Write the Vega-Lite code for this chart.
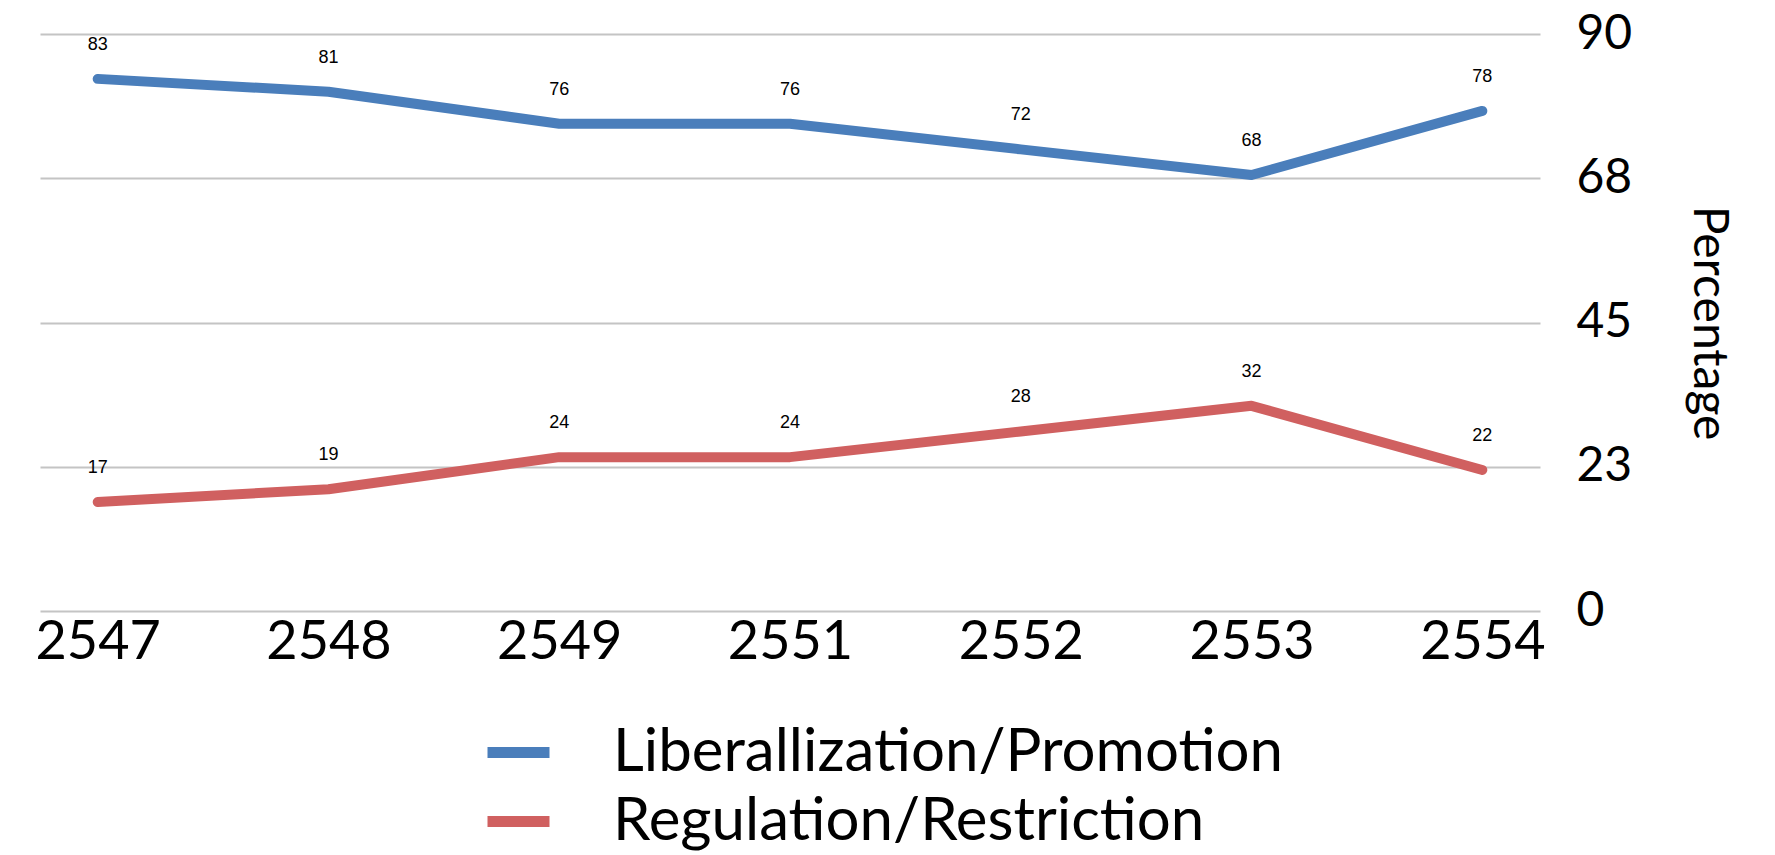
{
  "$schema": "https://vega.github.io/schema/vega-lite/v6.json",
  "width": 1500,
  "height": 577,
  "autosize": {"type": "none"},
  "padding": {"left": 40, "top": 34, "right": 235, "bottom": 244},
  "background": "white",
  "config": {"view": {"stroke": null}, "font": "Lato"},
  "data": {
    "values": [
      {"year": "2547", "series": "Liberallization/Promotion", "value": 83},
      {"year": "2548", "series": "Liberallization/Promotion", "value": 81},
      {"year": "2549", "series": "Liberallization/Promotion", "value": 76},
      {"year": "2551", "series": "Liberallization/Promotion", "value": 76},
      {"year": "2552", "series": "Liberallization/Promotion", "value": 72},
      {"year": "2553", "series": "Liberallization/Promotion", "value": 68},
      {"year": "2554", "series": "Liberallization/Promotion", "value": 78},
      {"year": "2547", "series": "Regulation/Restriction", "value": 17},
      {"year": "2548", "series": "Regulation/Restriction", "value": 19},
      {"year": "2549", "series": "Regulation/Restriction", "value": 24},
      {"year": "2551", "series": "Regulation/Restriction", "value": 24},
      {"year": "2552", "series": "Regulation/Restriction", "value": 28},
      {"year": "2553", "series": "Regulation/Restriction", "value": 32},
      {"year": "2554", "series": "Regulation/Restriction", "value": 22}
    ]
  },
  "encoding": {
    "x": {
      "field": "year", "type": "ordinal", "title": null,
      "scale": {"type": "point", "padding": 0.25},
      "axis": {"labelAngle": 0, "labelFontSize": 54, "labelColor": "black", "labelFont": "Lato", "domain": false, "ticks": false, "grid": false, "labelPadding": 4}
    },
    "y": {
      "field": "value", "type": "quantitative", "title": "Percentage",
      "scale": {"domain": [0, 90], "nice": false},
      "axis": {
        "orient": "right", "values": [0, 22.5, 45, 67.5, 90], "format": ".0f",
        "labelFontSize": 48, "labelColor": "black", "labelFont": "Lato", "labelPadding": 36,
        "domain": false, "ticks": false, "gridColor": "#c4c4c4", "gridWidth": 2,
        "titleFontSize": 48, "titleFont": "Lato", "titleFontWeight": "normal", "titleColor": "black", "titlePadding": 52
      }
    },
    "color": {
      "field": "series", "type": "nominal", "title": null,
      "scale": {"domain": ["Liberallization/Promotion", "Regulation/Restriction"], "range": ["#4a7ebb", "#d06060"]},
      "legend": {
        "orient": "none", "legendX": 442, "legendY": 682, "direction": "vertical",
        "symbolType": "stroke", "symbolStrokeWidth": 11, "symbolSize": 3844,
        "labelFontSize": 60, "labelFont": "Lato", "labelColor": "black", "labelOffset": 58,
        "rowPadding": 2, "labelLimit": 1000
      }
    }
  },
  "layer": [
    {
      "mark": {"type": "line", "strokeWidth": 10, "strokeCap": "round", "strokeJoin": "round"}
    },
    {
      "mark": {"type": "text", "dy": -34, "fontSize": 18, "font": "Liberation Sans", "color": "black"},
      "encoding": {"text": {"field": "value", "type": "quantitative"}, "color": {"value": "black"}}
    }
  ]
}
